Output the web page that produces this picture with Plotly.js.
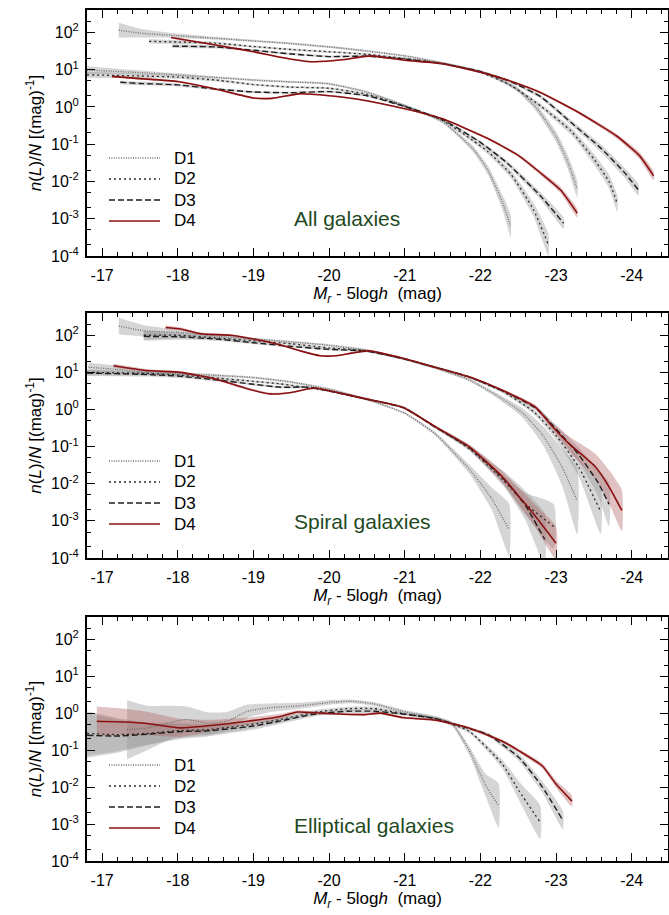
<!DOCTYPE html>
<html><head><meta charset="utf-8">
<script src="https://cdn.plot.ly/plotly-3.0.1.min.js"></script>
<style>html,body{margin:0;padding:0;background:#fff}</style>
</head><body><div id="chart" style="width:669px;height:915px"></div>
<script>
// ---------------- data (M_r - 5logh, log10 n(L)/N, band half-width in dex) ----------------
// Panel 1: All galaxies, upper group
const all_hi_D1_M = [-17.22,-17.5,-18.0,-18.5,-19.0,-19.5,-20.0,-20.5,-21.0,-21.5,-21.9,-22.2,-22.5,-22.75,-23.0,-23.15,-23.28];
const all_hi_D1_logn = [2.06,1.98,1.91,1.84,1.77,1.70,1.61,1.50,1.37,1.18,1.00,0.80,0.45,-0.05,-0.80,-1.45,-2.20];
const all_hi_D1_err = [0.20,0.12,0.06,0.04,0.03,0.03,0.03,0.03,0.03,0.03,0.03,0.04,0.06,0.10,0.14,0.18,0.22];
const all_hi_D2_M = [-17.62,-18.0,-18.5,-19.0,-19.5,-20.0,-20.5,-21.0,-21.5,-22.0,-22.4,-22.8,-23.2,-23.5,-23.7,-23.81];
const all_hi_D2_logn = [1.76,1.74,1.71,1.62,1.54,1.48,1.41,1.30,1.16,0.93,0.58,0.02,-0.65,-1.40,-2.00,-2.60];
const all_hi_D2_err = [0.06,0.05,0.04,0.03,0.03,0.03,0.03,0.03,0.03,0.03,0.04,0.06,0.10,0.14,0.18,0.22];
const all_hi_D3_M = [-17.93,-18.5,-19.0,-19.5,-20.0,-20.5,-21.0,-21.5,-22.0,-22.4,-22.8,-23.2,-23.6,-23.9,-24.09];
const all_hi_D3_logn = [1.63,1.61,1.52,1.42,1.35,1.36,1.28,1.16,0.95,0.68,0.27,-0.42,-1.12,-1.75,-2.23];
const all_hi_D3_err = [0.05,0.04,0.03,0.03,0.03,0.03,0.03,0.03,0.03,0.04,0.05,0.07,0.10,0.13,0.15];
const all_hi_D4_M = [-17.91,-18.5,-19.0,-19.5,-19.8,-20.2,-20.55,-21.0,-21.5,-22.1,-22.5,-22.8,-23.3,-23.8,-24.1,-24.29];
const all_hi_D4_logn = [1.86,1.66,1.48,1.28,1.21,1.27,1.37,1.25,1.16,0.88,0.62,0.38,-0.15,-0.78,-1.30,-1.85];
const all_hi_D4_err = [0.03,0.02,0.02,0.02,0.02,0.02,0.02,0.02,0.02,0.02,0.02,0.03,0.04,0.06,0.09,0.12];
// Panel 1: All galaxies, lower group
const all_lo_D1_M = [-16.8,-17.0,-17.5,-18.0,-18.5,-19.0,-19.5,-20.0,-20.5,-21.0,-21.5,-21.9,-22.1,-22.3,-22.4];
const all_lo_D1_logn = [0.99,0.97,0.92,0.86,0.79,0.72,0.67,0.62,0.40,0.04,-0.40,-1.12,-1.70,-2.60,-3.20];
const all_lo_D1_err = [0.10,0.09,0.06,0.04,0.03,0.03,0.03,0.03,0.03,0.03,0.04,0.08,0.12,0.20,0.30];
const all_lo_D2_M = [-16.8,-17.5,-18.0,-18.5,-19.0,-19.5,-20.0,-20.5,-21.0,-21.5,-21.9,-22.1,-22.4,-22.7,-22.9];
const all_lo_D2_logn = [0.86,0.83,0.80,0.72,0.60,0.53,0.50,0.34,0.02,-0.36,-0.90,-1.20,-1.80,-2.75,-3.70];
const all_lo_D2_err = [0.08,0.06,0.05,0.04,0.03,0.03,0.03,0.03,0.03,0.03,0.05,0.07,0.10,0.18,0.30];
const all_lo_D3_M = [-17.24,-17.5,-18.0,-18.5,-19.0,-19.5,-20.0,-20.5,-21.0,-21.5,-22.0,-22.35,-22.8,-23.1];
const all_lo_D3_logn = [0.66,0.63,0.59,0.48,0.40,0.38,0.41,0.30,0.01,-0.34,-0.95,-1.50,-2.40,-3.12];
const all_lo_D3_err = [0.05,0.05,0.04,0.03,0.03,0.03,0.03,0.03,0.03,0.03,0.04,0.06,0.10,0.15];
const all_lo_D4_M = [-17.13,-17.5,-18.0,-18.5,-19.0,-19.25,-19.6,-20.0,-20.4,-21.0,-21.5,-22.1,-22.5,-22.8,-23.06,-23.28];
const all_lo_D4_logn = [0.82,0.76,0.68,0.48,0.24,0.23,0.35,0.30,0.20,-0.05,-0.32,-0.85,-1.30,-1.78,-2.23,-2.85];
const all_lo_D4_err = [0.03,0.03,0.02,0.02,0.02,0.02,0.02,0.02,0.02,0.02,0.02,0.03,0.04,0.06,0.08,0.12];

// Panel 2: Spiral galaxies, upper group
const sp_hi_D1_M = [-17.22,-17.55,-18.0,-18.5,-19.0,-19.5,-20.0,-20.5,-21.0,-21.4,-21.85,-22.2,-22.55,-22.82,-23.08,-23.28];
const sp_hi_D1_logn = [2.25,2.12,2.08,1.98,1.90,1.82,1.73,1.60,1.36,1.12,0.80,0.40,-0.08,-0.68,-1.55,-2.46];
const sp_hi_D1_err = [0.22,0.15,0.08,0.05,0.04,0.03,0.03,0.03,0.03,0.03,0.04,0.06,0.12,0.25,0.50,0.90];
const sp_hi_D2_M = [-17.55,-18.0,-18.5,-19.0,-19.5,-20.0,-20.5,-21.0,-21.4,-21.85,-22.3,-22.7,-23.0,-23.3,-23.59];
const sp_hi_D2_logn = [2.0,2.0,1.93,1.85,1.77,1.66,1.58,1.36,1.14,0.87,0.48,-0.05,-0.70,-1.55,-2.75];
const sp_hi_D2_err = [0.12,0.08,0.05,0.04,0.03,0.03,0.03,0.03,0.03,0.03,0.04,0.06,0.12,0.25,0.60];
const sp_hi_D3_M = [-17.55,-18.0,-18.5,-19.0,-19.5,-20.0,-20.5,-21.0,-21.4,-21.85,-22.3,-22.73,-23.0,-23.3,-23.55,-23.7];
const sp_hi_D3_logn = [1.97,1.96,1.90,1.80,1.70,1.62,1.57,1.36,1.14,0.88,0.50,0.04,-0.52,-1.22,-1.95,-2.55];
const sp_hi_D3_err = [0.12,0.08,0.05,0.04,0.03,0.03,0.03,0.03,0.03,0.03,0.04,0.06,0.10,0.20,0.35,0.60];
const sp_hi_D4_M = [-17.84,-18.04,-18.3,-18.7,-19.05,-19.36,-19.62,-19.88,-20.1,-20.3,-20.52,-21.0,-21.4,-21.85,-22.29,-22.73,-22.95,-23.17,-23.52,-23.7,-23.87];
const sp_hi_D4_logn = [2.21,2.17,2.04,2.0,1.88,1.74,1.58,1.45,1.45,1.52,1.58,1.37,1.14,0.88,0.52,0.06,-0.45,-0.92,-1.54,-2.08,-2.72];
const sp_hi_D4_err = [0.05,0.04,0.03,0.03,0.03,0.02,0.02,0.02,0.02,0.02,0.02,0.02,0.02,0.02,0.03,0.06,0.10,0.20,0.35,0.45,0.55];
// Panel 2: Spiral galaxies, lower group
const sp_lo_D1_M = [-16.82,-17.2,-17.6,-18.0,-18.5,-19.0,-19.5,-20.0,-20.5,-21.0,-21.4,-21.85,-22.15,-22.38];
const sp_lo_D1_logn = [1.14,1.08,1.0,0.96,0.92,0.86,0.74,0.55,0.27,-0.10,-0.65,-1.60,-2.40,-3.24];
const sp_lo_D1_err = [0.12,0.10,0.07,0.05,0.04,0.03,0.03,0.03,0.03,0.03,0.05,0.12,0.30,0.70];
const sp_lo_D2_M = [-16.8,-17.5,-18.0,-18.5,-19.0,-19.36,-20.0,-20.5,-21.0,-21.4,-21.85,-22.3,-22.6,-22.97];
const sp_lo_D2_logn = [1.0,0.98,0.93,0.85,0.76,0.69,0.50,0.28,0.04,-0.47,-1.05,-1.90,-2.55,-3.15];
const sp_lo_D2_err = [0.08,0.06,0.05,0.04,0.03,0.03,0.03,0.03,0.03,0.03,0.05,0.12,0.30,0.60];
const sp_lo_D3_M = [-16.8,-17.5,-18.0,-18.5,-19.0,-19.36,-19.75,-20.0,-20.5,-21.0,-21.4,-21.85,-22.3,-22.6,-22.85];
const sp_lo_D3_logn = [0.98,0.95,0.90,0.80,0.68,0.60,0.60,0.50,0.28,0.04,-0.47,-1.02,-1.85,-2.60,-3.50];
const sp_lo_D3_err = [0.08,0.06,0.05,0.04,0.03,0.03,0.03,0.03,0.03,0.03,0.04,0.08,0.20,0.40,0.70];
const sp_lo_D4_M = [-17.15,-17.59,-18.03,-18.48,-18.92,-19.22,-19.5,-19.8,-20.08,-20.5,-20.97,-21.41,-21.85,-22.29,-22.55,-22.73,-23.0];
const sp_lo_D4_logn = [1.18,1.05,1.0,0.83,0.56,0.42,0.46,0.58,0.47,0.28,0.06,-0.47,-1.0,-1.81,-2.44,-2.88,-3.6];
const sp_lo_D4_err = [0.05,0.04,0.03,0.03,0.03,0.03,0.02,0.02,0.02,0.02,0.02,0.03,0.06,0.15,0.25,0.30,0.45];

// Panel 3: Elliptical galaxies
const el_D1_M = [-17.33,-17.6,-17.9,-18.12,-18.4,-18.65,-18.92,-19.2,-19.62,-20.06,-20.3,-20.59,-20.97,-21.41,-21.63,-21.85,-22.07,-22.24];
const el_D1_logn = [-0.45,-0.40,-0.25,-0.17,-0.28,-0.22,0.05,0.14,0.20,0.30,0.32,0.25,0.05,-0.13,-0.30,-1.0,-1.95,-2.5];
const el_D1_err = [0.8,0.6,0.45,0.35,0.30,0.25,0.18,0.12,0.08,0.06,0.05,0.05,0.05,0.05,0.06,0.12,0.30,0.60];
const el_D2_M = [-16.8,-17.2,-17.6,-18.03,-18.4,-18.7,-19.0,-19.36,-19.8,-20.24,-20.6,-21.0,-21.41,-21.85,-22.29,-22.51,-22.79];
const el_D2_logn = [-0.55,-0.58,-0.55,-0.47,-0.45,-0.38,-0.30,-0.17,0.02,0.12,0.12,-0.02,-0.15,-0.49,-1.38,-2.10,-2.95];
const el_D2_err = [0.6,0.45,0.30,0.20,0.15,0.12,0.10,0.08,0.06,0.05,0.05,0.04,0.04,0.05,0.12,0.25,0.45];
const el_D3_M = [-16.8,-17.2,-17.6,-18.03,-18.4,-18.7,-19.0,-19.36,-19.8,-20.24,-20.6,-21.0,-21.41,-21.85,-22.1,-22.51,-22.82,-23.09];
const el_D3_logn = [-0.60,-0.62,-0.57,-0.50,-0.48,-0.42,-0.35,-0.21,-0.03,0.05,0.05,-0.03,-0.15,-0.42,-0.58,-1.20,-2.00,-2.90];
const el_D3_err = [0.6,0.45,0.30,0.20,0.15,0.12,0.10,0.08,0.06,0.05,0.05,0.04,0.04,0.04,0.05,0.10,0.15,0.25];
const el_D4_M = [-16.93,-17.3,-17.59,-18.03,-18.47,-18.92,-19.36,-19.58,-19.89,-20.2,-20.46,-20.68,-20.97,-21.41,-21.85,-22.29,-22.51,-22.82,-23.0,-23.21];
const el_D4_logn = [-0.22,-0.24,-0.28,-0.40,-0.33,-0.22,-0.09,0.03,0.0,-0.03,-0.04,0.0,-0.12,-0.19,-0.40,-0.76,-1.02,-1.43,-1.92,-2.38];
const el_D4_err = [0.40,0.36,0.32,0.25,0.15,0.10,0.07,0.05,0.04,0.03,0.03,0.03,0.03,0.03,0.03,0.04,0.05,0.07,0.10,0.15];

// axis ticks and labels
const xTickVals = [-17,-18,-19,-20,-21,-22,-23,-24];
const xTickText = ['-17','-18','-19','-20','-21','-22','-23','-24'];
const yTickVals = [1e-4,1e-3,1e-2,1e-1,1,10,100];
const yTickText = ['10<sup>-4</sup>','10<sup>-3</sup>','10<sup>-2</sup>','10<sup>-1</sup>','10<sup>0</sup>','10<sup>1</sup>','10<sup>2</sup>'];
const yMinorVals = [2e-4,5e-4,2e-3,5e-3,2e-2,5e-2,0.2,0.5,2,5,20,50,200];
const seriesNames = ['D1','D2','D3','D4'];
const panelLabels = ['All galaxies','Spiral galaxies','Elliptical galaxies'];

// ---------------- build ----------------
const curves = [
  [1,0,all_hi_D1_M,all_hi_D1_logn,all_hi_D1_err],[1,1,all_hi_D2_M,all_hi_D2_logn,all_hi_D2_err],
  [1,2,all_hi_D3_M,all_hi_D3_logn,all_hi_D3_err],[1,3,all_hi_D4_M,all_hi_D4_logn,all_hi_D4_err],
  [1,0,all_lo_D1_M,all_lo_D1_logn,all_lo_D1_err],[1,1,all_lo_D2_M,all_lo_D2_logn,all_lo_D2_err],
  [1,2,all_lo_D3_M,all_lo_D3_logn,all_lo_D3_err],[1,3,all_lo_D4_M,all_lo_D4_logn,all_lo_D4_err],
  [2,0,sp_hi_D1_M,sp_hi_D1_logn,sp_hi_D1_err],[2,1,sp_hi_D2_M,sp_hi_D2_logn,sp_hi_D2_err],
  [2,2,sp_hi_D3_M,sp_hi_D3_logn,sp_hi_D3_err],[2,3,sp_hi_D4_M,sp_hi_D4_logn,sp_hi_D4_err],
  [2,0,sp_lo_D1_M,sp_lo_D1_logn,sp_lo_D1_err],[2,1,sp_lo_D2_M,sp_lo_D2_logn,sp_lo_D2_err],
  [2,2,sp_lo_D3_M,sp_lo_D3_logn,sp_lo_D3_err],[2,3,sp_lo_D4_M,sp_lo_D4_logn,sp_lo_D4_err],
  [3,0,el_D1_M,el_D1_logn,el_D1_err],[3,1,el_D2_M,el_D2_logn,el_D2_err],
  [3,2,el_D3_M,el_D3_logn,el_D3_err],[3,3,el_D4_M,el_D4_logn,el_D4_err]
];
const lineStyles = [
  {color:'#6e6e6e', width:1.3, dash:'1px,1.4px'},
  {color:'#2a2a2a', width:1.3, dash:'2px,3px'},
  {color:'#1e1e1e', width:1.4, dash:'6px,3px'},
  {color:'#8b1010', width:1.6, dash:'solid'}
];
const bandColors = ['rgba(150,150,150,0.40)','rgba(150,150,150,0.40)','rgba(150,150,150,0.40)','rgba(175,95,95,0.38)'];

const bandTraces = [], lineTraces = [];
curves.forEach(function(c){
  const p = c[0], k = c[1], M = c[2], L = c[3], E = c[4];
  const ax = p === 1 ? '' : String(p);
  const up = L.map(function(v,i){return Math.pow(10, v + E[i]);});
  const lo = L.map(function(v,i){return Math.pow(10, v - E[i]);});
  bandTraces.push({
    type:'scatter', mode:'lines', xaxis:'x'+ax, yaxis:'y'+ax,
    x: M.concat(M.slice().reverse()), y: up.concat(lo.slice().reverse()),
    fill:'toself', fillcolor: bandColors[k], line:{width:0, shape:'spline', smoothing:0.5},
    hoverinfo:'skip', showlegend:false, name: seriesNames[k] + ' range'
  });
  lineTraces.push({
    type:'scatter', mode:'lines', xaxis:'x'+ax, yaxis:'y'+ax,
    x: M, y: L.map(function(v){return Math.pow(10, v);}),
    name: seriesNames[k], showlegend:false,
    line: Object.assign({shape:'spline', smoothing:0.5}, lineStyles[k])
  });
});

const FONT = 'Liberation Sans, Arial, Helvetica, sans-serif';
const H = 915, PW = 581, PL = 87;
const panelPx = [[10,256],[313,558],[617,861]];
function dom(i){ return [1 - panelPx[i][1]/H, 1 - panelPx[i][0]/H]; }

function xAxis(i){
  return {
    domain:[0,1], anchor: i === 0 ? 'y' : 'y' + (i+1),
    range:[-16.8,-24.48], tickmode:'array', tickvals:xTickVals, ticktext:xTickText,
    ticks:'inside', ticklen:8, tickwidth:1.3, tickcolor:'#000',
    showline:true, linecolor:'#000', linewidth:2, mirror:'allticks',
    showgrid:false, zeroline:false, ticklabelstandoff:4,
    minor:{tickmode:'linear', tick0:-17, dtick:0.2, ticks:'inside', ticklen:4, tickwidth:1.1, tickcolor:'#000', showgrid:false},
    tickfont:{family:FONT, size:16, color:'#000'},
    title:{text:'<i>M</i><sub><i>r</i></sub> - 5log<i>h</i>&nbsp;&nbsp;(mag)', font:{family:FONT, size:17, color:'#000'}, standoff:3}
  };
}
function yAxis(i){
  return {
    domain: dom(i), anchor: i === 0 ? 'x' : 'x' + (i+1),
    type:'log', range:[-4, 2.6], tickmode:'array', tickvals:yTickVals, ticktext:yTickText,
    ticks:'inside', ticklen:8, tickwidth:1.3, tickcolor:'#000',
    showline:true, linecolor:'#000', linewidth:2, mirror:'allticks',
    showgrid:false, zeroline:false, ticklabelstandoff:3,
    minor:{tickmode:'array', tickvals:yMinorVals, ticks:'inside', ticklen:4, tickwidth:1.1, tickcolor:'#000', showgrid:false},
    tickfont:{family:FONT, size:16, color:'#000'},
    title:{text:'<i>n</i>(<i>L</i>)/<i>N</i> [(mag)<sup>-1</sup>]', font:{family:FONT, size:17, color:'#000'}, standoff:5}
  };
}

// legend (drawn as key lines + labels inside each panel)
const legendOffsets = [148, 169, 190, 211];
const shapes = [], annotations = [];
panelPx.forEach(function(pp, i){
  legendOffsets.forEach(function(off, k){
    const yp = 1 - (pp[0] + off)/H;
    shapes.push({type:'line', xref:'paper', yref:'paper', x0:(109-PL)/PW, x1:(160-PL)/PW, y0:yp, y1:yp,
      line:{color:lineStyles[k].color, width:lineStyles[k].width + 0.1, dash:lineStyles[k].dash}});
    annotations.push({text:seriesNames[k], xref:'paper', yref:'paper', x:(173-PL)/PW, xanchor:'left',
      y:yp, yanchor:'middle', showarrow:false, borderpad:0, font:{family:FONT, size:17, color:'#000'}});
  });
  annotations.push({text:panelLabels[i], xref:'paper', yref:'paper', x:(292-PL)/PW, xanchor:'left',
    y: 1 - (pp[0] + 208)/H, yanchor:'middle', showarrow:false,
    font:{family:FONT, size:21, color:'#1f4a1f'}});
});

const layout = {
  width:669, height:915,
  margin:{l:PL, r:1, t:0, b:0, pad:0},
  paper_bgcolor:'#fff', plot_bgcolor:'#fff',
  font:{family:FONT, color:'#000', size:16},
  xaxis:xAxis(0), xaxis2:xAxis(1), xaxis3:xAxis(2),
  yaxis:yAxis(0), yaxis2:yAxis(1), yaxis3:yAxis(2),
  shapes:shapes, annotations:annotations,
  showlegend:false
};

Plotly.newPlot('chart', bandTraces.concat(lineTraces), layout, {displayModeBar:false, responsive:false});
</script>
</body></html>
